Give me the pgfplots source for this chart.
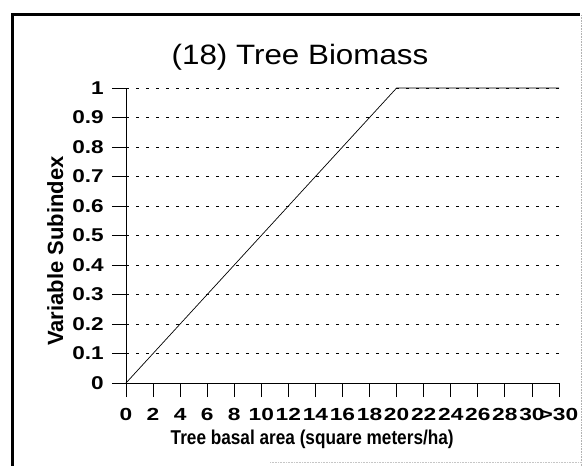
\documentclass[border=0pt]{standalone}
\usepackage{fontspec}
\setmainfont{Liberation Sans}
\newfontfamily\titlefont{Liberation Sans}[FakeStretch=1.12]
\newfontfamily\xtickfont{Liberation Sans}[FakeStretch=1.3]
\newfontfamily\ytickfont{Liberation Sans}[FakeStretch=1.22]
\newfontfamily\xlabfont{Liberation Sans}[FakeStretch=0.86]
\usepackage{pgfplots}
\pgfplotsset{compat=1.18}
\begin{document}
\begin{tikzpicture}
\path[use as bounding box] (0,0) rectangle (583bp,466bp);
\fill[white] (0,0) rectangle (583bp,466bp);
\draw[line width=3bp] (12bp,0) -- (12bp,451bp) -- (580bp,451bp);
\draw[gray!60, densely dotted, line width=0.6bp] (581bp,451bp) -- (581bp,0);
\draw[gray!45, densely dotted, line width=0.6bp] (270bp,4bp) -- (583bp,4bp);
\node[font=\titlefont\fontsize{28bp}{32bp}\selectfont, anchor=base] at (300bp,401bp) {(18) Tree Biomass};
\begin{axis}[
  scale only axis, width=433bp, height=295bp,
  at={(126bp,83bp)}, anchor=south west,
  xmin=0, xmax=16, ymin=0, ymax=1,
  axis x line*=bottom, axis y line*=left,
  xtick={0,...,16},
  xticklabels={0,2,4,6,8,10,12,14,16,18,20,22,24,26,28,30,>30},
  ytick={0,0.1,0.2,0.3,0.4,0.5,0.6,0.7,0.8,0.9,1},
  yticklabels={0,0.1,0.2,0.3,0.4,0.5,0.6,0.7,0.8,0.9,1},
  tick align=outside, major tick length=14bp,
  tick style={black, line width=0.8bp},
  axis line style={black, line width=0.8bp},
  ymajorgrids,
  grid style={black, line width=0.9bp, dash pattern=on 3bp off 7bp},
  clip=false,
  xticklabel style={font=\xtickfont\bfseries\fontsize{17.5bp}{20bp}\selectfont, anchor=base, inner sep=0pt, yshift=-23bp},
  yticklabel style={font=\ytickfont\bfseries\fontsize{18.5bp}{22bp}\selectfont, anchor=east, inner sep=0pt, xshift=-8bp},
  xlabel={Tree basal area (square meters/ha)},
  ylabel={Variable Subindex},
  every axis x label/.style={at={([yshift=-61bp]rel axis cs:0.43,0)}, anchor=base, font=\xlabfont\bfseries\fontsize{20bp}{22bp}\selectfont},
  every axis y label/.style={at={([xshift=-63bp]rel axis cs:0,0.447)}, rotate=90, anchor=base, font=\bfseries\fontsize{22bp}{24bp}\selectfont},
]
\addplot[black, line width=0.7bp] coordinates {(0,0) (10,1) (16,1)};
\end{axis}
\end{tikzpicture}
\end{document}
